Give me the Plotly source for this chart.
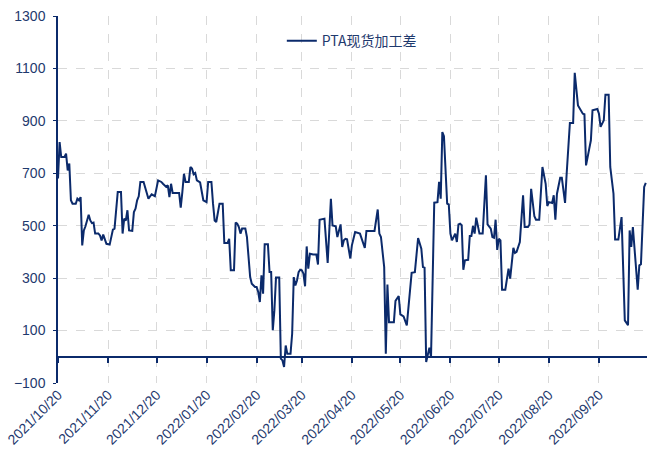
import plotly.graph_objects as go

# PTA spot processing spread, vertices
dates = [
    "2021-10-20", "2021-10-21", "2021-10-22", "2021-10-24", "2021-10-25", "2021-10-26", "2021-10-27",
    "2021-10-28", "2021-10-29", "2021-10-31", "2021-11-01", "2021-11-02", "2021-11-03", "2021-11-04",
    "2021-11-05", "2021-11-06", "2021-11-08", "2021-11-09", "2021-11-10", "2021-11-11", "2021-11-12",
    "2021-11-14", "2021-11-15", "2021-11-16", "2021-11-17", "2021-11-18", "2021-11-19", "2021-11-21",
    "2021-11-22", "2021-11-23", "2021-11-24", "2021-11-26", "2021-11-28", "2021-11-29", "2021-11-30",
    "2021-12-01", "2021-12-02", "2021-12-03", "2021-12-05", "2021-12-06", "2021-12-07", "2021-12-08",
    "2021-12-09", "2021-12-10", "2021-12-12", "2021-12-13", "2021-12-14", "2021-12-15", "2021-12-17",
    "2021-12-19", "2021-12-21", "2021-12-23", "2021-12-24", "2021-12-26", "2021-12-27", "2021-12-28",
    "2021-12-29", "2021-12-30", "2022-01-03", "2022-01-04", "2022-01-05", "2022-01-06", "2022-01-07",
    "2022-01-09", "2022-01-10", "2022-01-11", "2022-01-12", "2022-01-13", "2022-01-14", "2022-01-16",
    "2022-01-18", "2022-01-20", "2022-01-21", "2022-01-23", "2022-01-24", "2022-01-25", "2022-01-26",
    "2022-01-28", "2022-01-30", "2022-01-31", "2022-02-02", "2022-02-03", "2022-02-04", "2022-02-06",
    "2022-02-07", "2022-02-08", "2022-02-09", "2022-02-10", "2022-02-11", "2022-02-13", "2022-02-14",
    "2022-02-15", "2022-02-16", "2022-02-17", "2022-02-19", "2022-02-20", "2022-02-21", "2022-02-22",
    "2022-02-23", "2022-02-24", "2022-02-25", "2022-02-27", "2022-02-28", "2022-03-01", "2022-03-02",
    "2022-03-03", "2022-03-04", "2022-03-06", "2022-03-07", "2022-03-08", "2022-03-09", "2022-03-10",
    "2022-03-11", "2022-03-13", "2022-03-14", "2022-03-15", "2022-03-16", "2022-03-17", "2022-03-18",
    "2022-03-19", "2022-03-20", "2022-03-21", "2022-03-22", "2022-03-23", "2022-03-24", "2022-03-25",
    "2022-03-27", "2022-03-29", "2022-03-30", "2022-03-31", "2022-04-03", "2022-04-05", "2022-04-07",
    "2022-04-08", "2022-04-10", "2022-04-11", "2022-04-13", "2022-04-14", "2022-04-15", "2022-04-16",
    "2022-04-17", "2022-04-19", "2022-04-20", "2022-04-22", "2022-04-25", "2022-04-28", "2022-04-29",
    "2022-05-04", "2022-05-06", "2022-05-07", "2022-05-08", "2022-05-10", "2022-05-11", "2022-05-12",
    "2022-05-13", "2022-05-16", "2022-05-17", "2022-05-19", "2022-05-20", "2022-05-22", "2022-05-24",
    "2022-05-27", "2022-05-29", "2022-05-31", "2022-06-02", "2022-06-03", "2022-06-04", "2022-06-05",
    "2022-06-06", "2022-06-07", "2022-06-08", "2022-06-10", "2022-06-12", "2022-06-13", "2022-06-14",
    "2022-06-15", "2022-06-16", "2022-06-18", "2022-06-19", "2022-06-20", "2022-06-21", "2022-06-23",
    "2022-06-24", "2022-06-25", "2022-06-26", "2022-06-27", "2022-06-28", "2022-06-29", "2022-07-01",
    "2022-07-02", "2022-07-03", "2022-07-04", "2022-07-05", "2022-07-06", "2022-07-08", "2022-07-10",
    "2022-07-12", "2022-07-13", "2022-07-15", "2022-07-16", "2022-07-17", "2022-07-18", "2022-07-19",
    "2022-07-20", "2022-07-21", "2022-07-22", "2022-07-24", "2022-07-26", "2022-07-27", "2022-07-29",
    "2022-07-30", "2022-07-31", "2022-08-02", "2022-08-03", "2022-08-04", "2022-08-05", "2022-08-07",
    "2022-08-08", "2022-08-09", "2022-08-11", "2022-08-12", "2022-08-14", "2022-08-15", "2022-08-16",
    "2022-08-18", "2022-08-19", "2022-08-20", "2022-08-22", "2022-08-23", "2022-08-24", "2022-08-25",
    "2022-08-27", "2022-08-28", "2022-08-30", "2022-08-31", "2022-09-02", "2022-09-04", "2022-09-05",
    "2022-09-07", "2022-09-10", "2022-09-11", "2022-09-12", "2022-09-14", "2022-09-15", "2022-09-16",
    "2022-09-18", "2022-09-19", "2022-09-20", "2022-09-21", "2022-09-23", "2022-09-24", "2022-09-26",
    "2022-09-27", "2022-09-29", "2022-09-30", "2022-10-02", "2022-10-04", "2022-10-06", "2022-10-08",
    "2022-10-09", "2022-10-10", "2022-10-11", "2022-10-14", "2022-10-15", "2022-10-16", "2022-10-18",
    "2022-10-19",
]

spread = [
    680, 819, 762, 762, 775, 711, 737,
    597, 584, 584, 603, 597, 609, 425,
    482, 498, 542, 520, 510, 512, 470,
    470, 463, 444, 466, 451, 431, 428,
    463, 485, 489, 629, 629, 470, 527,
    520, 559, 482, 480, 552, 565, 597,
    612, 667, 667, 648, 622, 603, 620,
    613, 673, 667, 660, 648, 654, 609,
    660, 625, 625, 569, 628, 698, 667,
    667, 724, 718, 696, 701, 673, 665,
    597, 590, 667, 667, 584, 520, 514,
    584, 584, 434, 434, 450, 330, 330,
    512, 508, 495, 470, 489, 489, 457,
    380, 304, 279, 266, 266, 247, 209,
    311, 241, 429, 429, 323, 323, 101,
    177, 302, 302, -7, -14, -39, 43,
    12, 12, 88, 304, 272, 291, 323,
    332, 330, 317, 269, 421, 336, 393,
    390, 390, 352, 523, 527, 358, 603,
    501, 498, 457, 505, 419, 444, 450,
    448, 375, 425, 476, 470, 415, 480,
    480, 562, 470, 457, 342, 12, 276,
    132, 132, 213, 232, 162, 154, 120,
    320, 323, 453, 412, 342, 340, -20,
    12, 35, -1, 588, 590, 667, 603,
    857, 841, 584, 581, 470, 444, 470,
    438, 505, 508, 502, 332, 368, 370,
    461, 461, 499, 470, 531, 470, 470,
    692, 505, 489, 457, 454, 523, 408,
    450, 444, 256, 256, 336, 298, 416,
    396, 400, 438, 533, 616, 495, 495,
    505, 641, 536, 523, 523, 654, 724,
    660, 575, 590, 587, 616, 523, 622,
    683, 683, 587, 698, 892, 892, 1083,
    959, 927, 925, 730, 794, 826, 940,
    943, 945, 927, 877, 902, 1000, 1000,
    724, 622, 447, 447, 533, 139, 120,
    482, 419, 495, 256, 349, 353, 648,
    663,
]

navy = "#0b2a6b"
text_navy = "#1f3a6e"
grid = "#d9d9d9"
x_range = ["2021-10-20", "2022-10-19 18:00"]

fig = go.Figure()

fig.add_trace(go.Scatter(
    x=dates, y=spread,
    mode="lines",
    name="PTA现货加工差",
    line=dict(color=navy, width=2),
))

# invisible copy so the zero-crossing axis (x2) gets drawn
fig.add_trace(go.Scatter(
    x=dates, y=spread,
    xaxis="x2", mode="lines",
    line=dict(width=0), opacity=0,
    showlegend=False, hoverinfo="skip",
))

fig.update_layout(
    width=648, height=450,
    margin=dict(l=58, r=1, t=16, b=67),
    plot_bgcolor="white",
    paper_bgcolor="white",
    font=dict(family="Liberation Sans, Arial, sans-serif", color=text_navy),
    showlegend=True,
    legend=dict(
        x=0.38, y=0.975, xanchor="left", yanchor="top",
        bgcolor="rgba(0,0,0,0)",
        font=dict(family="Noto Sans CJK SC", size=14, color=text_navy),
    ),
    xaxis=dict(
        type="date",
        range=x_range,
        tick0="2021-10-20", dtick="M1",
        tickformat="%Y/%m/%d",
        tickangle=-45,
        tickfont=dict(size=14, color=text_navy),
        ticklabeloverflow="allow",
        showgrid=True, gridcolor=grid, griddash="dash", gridwidth=1,
        showline=False, ticks="",
        zeroline=False,
        automargin=False,
    ),
    xaxis2=dict(
        type="date",
        range=x_range,
        overlaying="x", anchor="free", position=100 / 1400,
        tick0="2021-10-20", dtick="M1",
        showticklabels=False,
        showgrid=False,
        showline=True, linecolor=navy, linewidth=1.5,
        ticks="outside", ticklen=5, tickcolor=navy, tickwidth=1.5,
        zeroline=False,
    ),
    yaxis=dict(
        range=[-100, 1300],
        tick0=-100, dtick=200,
        tickfont=dict(size=14, color=text_navy),
        ticklabeloverflow="allow",
        ticklabelstandoff=5,
        showgrid=True, gridcolor=grid, griddash="dash", gridwidth=1,
        showline=True, linecolor=navy, linewidth=1.5,
        ticks="outside", ticklen=3, tickcolor=navy,
        zeroline=False,
        automargin=False,
    ),
)

# drop the default 8px body margin so the figure fills the window
fig.write_html(
    "out.html",
    config={"displayModeBar": False},
    post_script="document.body.style.margin = '0';",
)
